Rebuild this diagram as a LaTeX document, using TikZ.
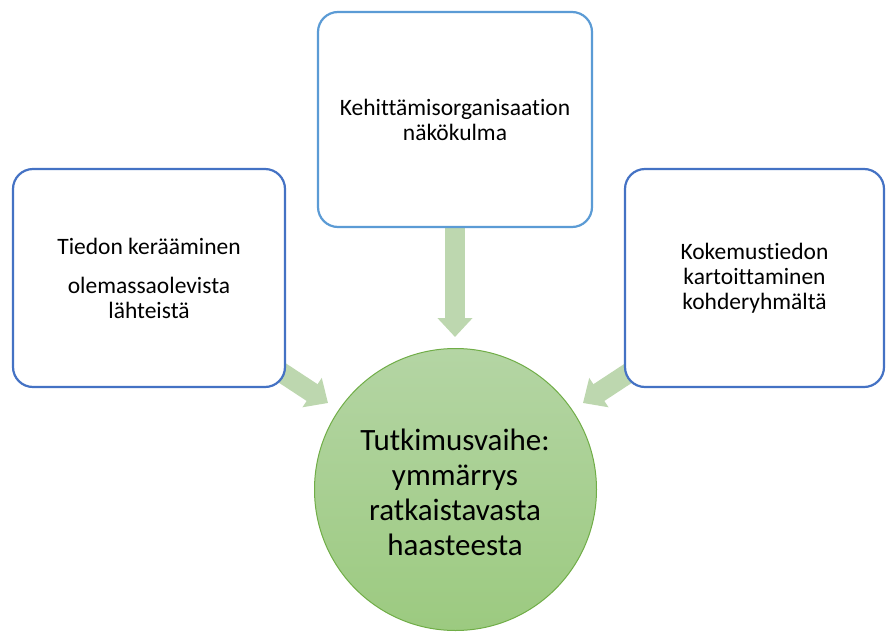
\documentclass[tikz,border=0pt]{standalone}
\usepackage{fontspec}
\setmainfont{Carlito}[Ligatures=NoCommon]
\usetikzlibrary{arrows.meta}
\definecolor{boxblue}{HTML}{4472C4}
\definecolor{topblue}{HTML}{5B9BD5}
\definecolor{arrowgreen}{HTML}{BDD7AF}
\definecolor{circtop}{HTML}{B4D5A4}
\definecolor{circbot}{HTML}{9CCA80}
\definecolor{circline}{HTML}{70AD47}
\begin{document}
\begin{tikzpicture}[x=1pt,y=-1pt,
  blockarrow/.style={line width=20pt, draw=arrowgreen, -{Triangle[length=19pt,width=34pt]}},
  infobox/.style={draw=boxblue, line width=2.2pt, fill=white, rounded corners=20pt,
    minimum width=272pt, minimum height=218pt, align=center,
    font=\fontsize{23.5}{25}\selectfont, inner sep=0pt},
  hub/.style={circle, draw=circline, line width=1pt, top color=circtop, bottom color=circbot,
    minimum size=282pt, inner sep=0pt},
  hubtext/.style={align=center, font=\fontsize{31}{35}\selectfont, inner sep=0pt}
]
\useasboundingbox (0,0) rectangle (886,632);

% arrow anchors
\coordinate (la0) at (261,359);
\coordinate (la1) at (328,403);
\coordinate (ta0) at (455,222);
\coordinate (ta1) at (455,337);
\coordinate (ra0) at (650,359);
\coordinate (ra1) at (583,403);

\draw[blockarrow] (la0) -- (la1);
\draw[blockarrow] (ta0) -- (ta1);
\draw[blockarrow] (ra0) -- (ra1);

\node[infobox] (left) at (149,278) {Tiedon kerääminen\\[14pt]olemassaolevista\\lähteistä};
\node[infobox, draw=topblue, minimum width=274pt, minimum height=215pt] (top) at (455,119.5)
  {Kehittämisorganisaation\\näkökulma};
\node[infobox, minimum width=259pt] (right) at (754.5,278)
  {Kokemustiedon\\kartoittaminen\\kohderyhmältä};

\node[hub] (hub) at (455.5,489.5) {};
\node[hubtext] (hubtxt) at (455,492) {Tutkimusvaihe:\\ymmärrys\\ratkaistavasta\\haasteesta};
\end{tikzpicture}
\end{document}
